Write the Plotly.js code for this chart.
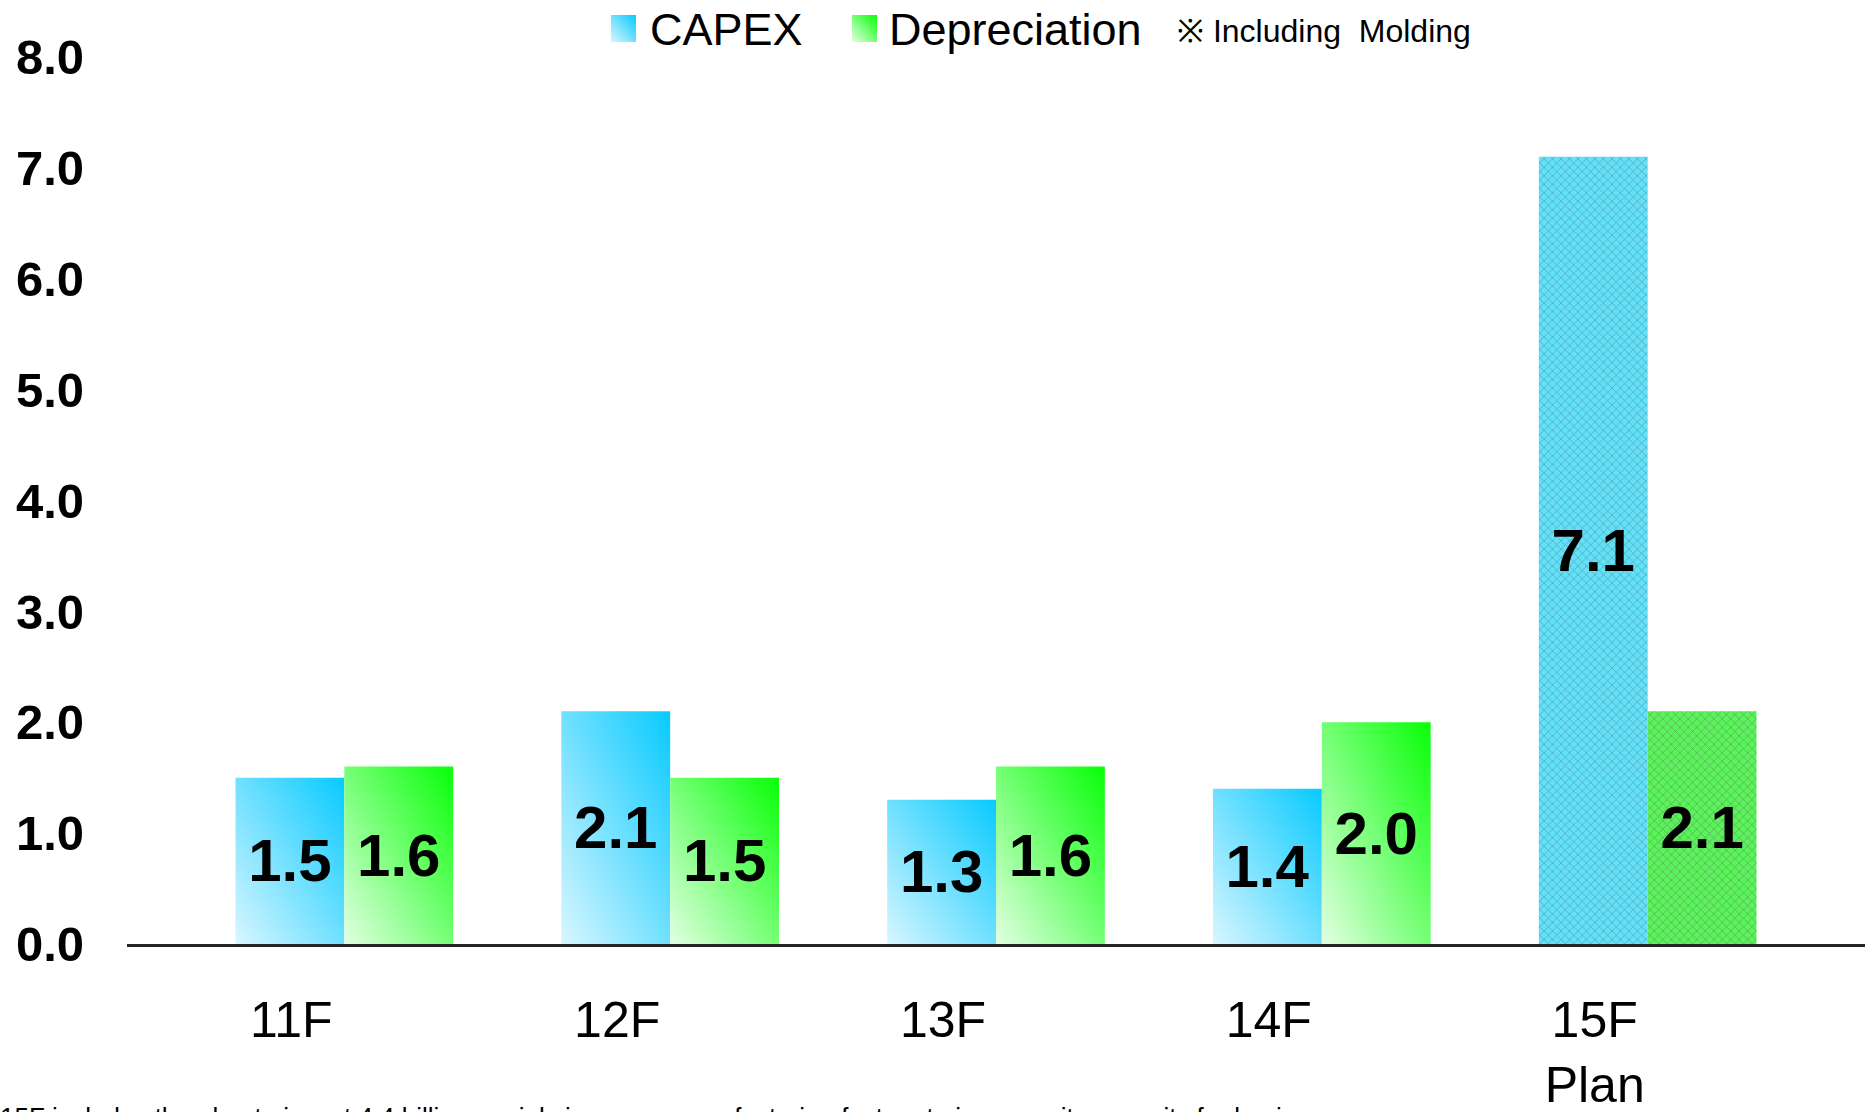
<!DOCTYPE html>
<html>
<head>
<meta charset="utf-8">
<script src="https://cdn.plot.ly/plotly-3.0.1.min.js"></script>
<style>
html,body{margin:0;padding:0;background:#fff;}
#chart{width:1865px;height:1112px;}
</style>
</head>
<body>
<div id="chart"></div>
<script>
const categories = ["11F", "12F", "13F", "14F", "15F"];
const tickLabels = ["11F", "12F", "13F", "14F", "15F<br>Plan"];
const capex = [1.5, 2.1, 1.3, 1.4, 7.1];
const depreciation = [1.6, 1.5, 1.6, 2.0, 2.1];
const seriesNames = ["CAPEX", "Depreciation"];
const noteText = "※ Including  Molding";
const footnote = "15F includes the plan to invest 4.4 billion, mainly in a new manufacturing factory to increase its capacity for business";

const arial = "'Liberation Sans', Arial, sans-serif";

const labelFont = {family: arial, size: 60, color: '#000', weight: 'bold'};

const traceCapex = {
  type: 'bar', name: seriesNames[0], x: categories, y: capex,
  text: capex.map(v => v.toFixed(1)), textposition: 'inside', insidetextanchor: 'middle',
  textangle: 0, constraintext: 'none', insidetextfont: labelFont, textfont: labelFont,
  marker: {
    color: ['#7fdcff', '#7fdcff', '#7fdcff', '#7fdcff', '#62e1f8'],
    line: {width: 0},
    pattern: {shape: ['', '', '', '', 'x'], size: 6, solidity: 0.2,
      fgcolor: '#2aa8cc', fgopacity: 0.45, fillmode: 'overlay'}
  },
  hoverinfo: 'none'
};
const traceDep = {
  type: 'bar', name: seriesNames[1], x: categories, y: depreciation,
  text: depreciation.map(v => v.toFixed(1)), textposition: 'inside', insidetextanchor: 'middle',
  textangle: 0, constraintext: 'none', insidetextfont: labelFont, textfont: labelFont,
  marker: {
    color: ['#90ff90', '#90ff90', '#90ff90', '#90ff90', '#5cf25c'],
    line: {width: 0},
    pattern: {shape: ['', '', '', '', 'x'], size: 6, solidity: 0.2,
      fgcolor: '#22b822', fgopacity: 0.45, fillmode: 'overlay'}
  },
  hoverinfo: 'none'
};

// pixel helpers for paper coords (plot area: x 127..1865, y 57..944)
const L = 127, R = 1865, T = 57, B = 944;
const px = x => (x - L) / (R - L);
const py = y => (B - y) / (B - T);

const layout = {
  width: 1865, height: 1112,
  margin: {l: L, r: 1865 - R, t: T, b: 1112 - B, pad: 0},
  paper_bgcolor: '#fff', plot_bgcolor: '#fff',
  showlegend: false,
  barmode: 'group', bargap: 0.332, bargroupgap: 0,
  xaxis: {
    type: 'category', range: [-0.667, 4.667],
    tickvals: categories, ticktext: tickLabels,
    showline: true, linecolor: '#262626', linewidth: 3,
    ticks: '', showgrid: false, zeroline: false,
    ticklabelshift: -53, ticklabelstandoff: 30,
    tickfont: {family: arial, size: 50, color: '#000'}
  },
  yaxis: {
    range: [0, 8], tickvals: [0,1,2,3,4,5,6,7,8], tickformat: '.1f',
    showline: false, showgrid: false, zeroline: false, ticks: '',
    ticklabelstandoff: 42,
    tickfont: {family: arial, size: 49, color: '#000', weight: 'bold'}
  },
  shapes: [
    {type: 'rect', xref: 'paper', yref: 'paper', x0: px(611), x1: px(636), y0: py(42), y1: py(15),
     fillcolor: '#7fdcff', line: {width: 0}},
    {type: 'rect', xref: 'paper', yref: 'paper', x0: px(852), x1: px(877), y0: py(42), y1: py(15),
     fillcolor: '#90ff90', line: {width: 0}}
  ],
  annotations: [
    {xref: 'paper', yref: 'paper', x: px(648), y: py(30), xanchor: 'left', yanchor: 'middle',
     text: seriesNames[0], showarrow: false, font: {family: arial, size: 45, color: '#000'}},
    {xref: 'paper', yref: 'paper', x: px(887), y: py(30), xanchor: 'left', yanchor: 'middle',
     text: seriesNames[1], showarrow: false, font: {family: arial, size: 45, color: '#000'}},
    {xref: 'paper', yref: 'paper', x: px(1175), y: py(31), xanchor: 'left', yanchor: 'middle',
     text: noteText, showarrow: false, font: {family: arial, size: 32, color: '#000'}},
    {xref: 'paper', yref: 'paper', x: px(-2), y: py(1100), xanchor: 'left', yanchor: 'top',
     text: footnote, showarrow: false, font: {family: arial, size: 26, color: '#000'}}
  ]
};

function addGradients() {
  const svg = document.querySelector('#chart .main-svg');
  if (!svg) return;
  const NS = 'http://www.w3.org/2000/svg';
  let defs = svg.querySelector('defs');
  if (!defs) { defs = document.createElementNS(NS, 'defs'); svg.insertBefore(defs, svg.firstChild); }
  const mk = (id, c0, c1) => {
    if (document.getElementById(id)) return;
    const g = document.createElementNS(NS, 'linearGradient');
    g.setAttribute('id', id);
    g.setAttribute('x1', '0'); g.setAttribute('y1', '1'); g.setAttribute('x2', '1'); g.setAttribute('y2', '0');
    [[0, c0], [1, c1]].forEach(([o, c]) => {
      const s = document.createElementNS(NS, 'stop');
      s.setAttribute('offset', o); s.setAttribute('stop-color', c);
      g.appendChild(s);
    });
    defs.appendChild(g);
  };
  mk('gradCapex', '#d8f6ff', '#08caff');
  mk('gradDep', '#e2ffe2', '#08ff08');
  const traces = document.querySelectorAll('#chart .barlayer .trace');
  const ids = ['gradCapex', 'gradDep'];
  traces.forEach((tr, ti) => {
    const paths = tr.querySelectorAll('.point > path');
    paths.forEach((p, i) => { if (i < 4) p.style.fill = 'url(#' + ids[ti] + ')'; });
  });
  const shp = document.querySelectorAll('#chart .shapelayer path');
  shp.forEach((p, i) => { if (i < 2) p.style.fill = 'url(#' + ids[i] + ')'; });
}

Plotly.newPlot('chart', [traceCapex, traceDep], layout, {displayModeBar: false, staticPlot: true})
  .then(gd => { addGradients(); gd.on('plotly_afterplot', addGradients); });
</script>
</body>
</html>
